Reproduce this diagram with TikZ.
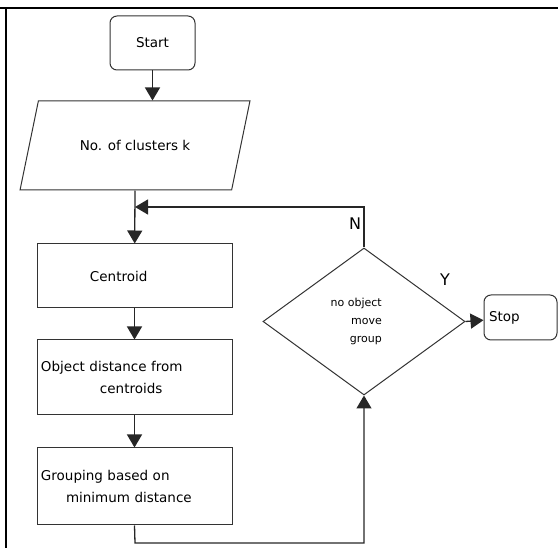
\documentclass[tikz,border=0pt]{standalone}
\usepackage{fontspec}
\setmainfont{DejaVu Sans}
\usetikzlibrary{shapes.geometric,arrows.meta}
\tikzset{
    stepbox/.style={draw=black!80, line width=1pt, minimum width=195pt, text width=187pt, inner sep=4pt, align=left},
    terminal/.style={draw=black!80, line width=1pt, rounded corners=7pt},
    flow/.style={draw=black!85, line width=1.3pt, -{Triangle[length=13pt,width=15pt]}},
}
\begin{document}
\begin{tikzpicture}[x=1pt, y=-1pt, font=\fontsize{13.5}{22}\selectfont]
    \useasboundingbox (0,0) rectangle (558,548);
    \draw[line width=2pt] (0,8) -- (558,8);
    \draw[line width=2pt] (6,8) -- (6,548);
    \node[terminal, minimum width=85pt, minimum height=54pt] (start) at (152.5,43) {Start};
    \node[draw=black!80, line width=1pt, trapezium, trapezium left angle=57, trapezium right angle=123,
        trapezium stretches=true, minimum width=230pt, minimum height=89pt] (clusters) at (135,145.5) {No. of clusters k};
    \node[stepbox, minimum height=64pt] (centroid) at (134.5,276) {\hspace*{49pt}Centroid};
    \node[stepbox, minimum height=75pt] (distance) at (134.5,377.5) {Object distance from\\\hspace*{59pt}centroids};
    \node[stepbox, minimum height=77pt] (grouping) at (134.5,486.5) {Grouping based on\\\hspace*{25pt}minimum distance};
    \node[draw=black!80, line width=1pt, diamond, minimum width=202pt, minimum height=147pt] (moved) at (364,321.5) {};
    \node[anchor=east, align=right, inner sep=0pt, font=\fontsize{11}{18}\selectfont] (movedtext) at (382,321.5)
        {no object\\move\\group};
    \node[terminal, minimum width=73pt, minimum height=45pt, text width=63pt, align=left] (stop) at (520.5,317.5) {Stop};
    \coordinate (join) at (135,207);
    \coordinate (bend) at (135,543);
    \draw[flow] (start.south) -- (start.south |- clusters.north);
    \draw[flow] (clusters.south) -- (centroid);
    \draw[flow] (centroid) -- (distance);
    \draw[flow] (distance) -- (grouping);
    \draw[flow] (grouping.south) -- (bend) -| (moved.south);
    \draw[flow] (moved.north) |- (join);
    \draw[flow] (moved.east) -- (stop);
    \node[font=\fontsize{16}{16}\selectfont] (no) at (355,224) {N};
    \node[font=\fontsize{16}{16}\selectfont] (yes) at (445,280) {Y};
\end{tikzpicture}
\end{document}
